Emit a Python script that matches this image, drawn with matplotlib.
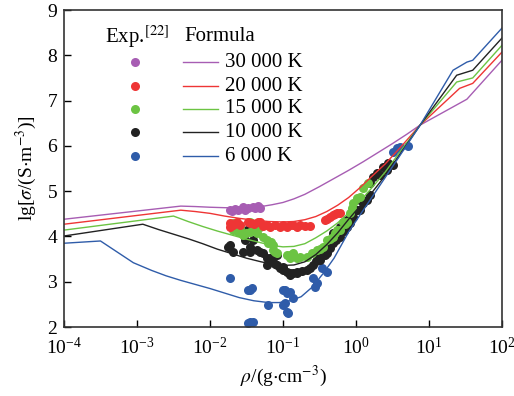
import matplotlib
matplotlib.use('Agg')
import matplotlib.pyplot as plt
import numpy as np

plt.rcParams['font.family'] = ['Liberation Serif', 'DejaVu Serif']
plt.rcParams['mathtext.fontset'] = 'stix'
plt.rcParams['font.size'] = 14

# names / colours of the series
names = ['30 000 K', '20 000 K', '15 000 K', '10 000 K', '6 000 K']
colors = ['#a75db3', '#ee3535', '#6cc443', '#222222', '#2f5ca9']

# Formula curves: log10(rho) and lg(sigma)
f30_lr = [-4.0, -2.4, -2.2, -2.0, -1.8, -1.6, -1.45, -1.3, -1.15, -1.0, -0.85, -0.7, -0.5,
          -0.3, -0.1, 0.1, 0.3, 0.5, 0.7, 0.88, 1.52, 2.0]
f30_lg = [4.38, 4.67, 4.66, 4.645, 4.635, 4.63, 4.64, 4.66, 4.70, 4.75, 4.83, 4.93, 5.10,
          5.28, 5.46, 5.65, 5.85, 6.05, 6.26, 6.46, 7.03, 7.89]
f20_lr = [-4.0, -2.4, -2.2, -2.0, -1.8, -1.6, -1.4, -1.2, -1.0, -0.85, -0.7, -0.55, -0.4,
          -0.25, -0.1, 0.05, 0.2, 0.4, 0.6, 0.88, 1.42, 1.6, 2.0]
f20_lg = [4.27, 4.58, 4.55, 4.51, 4.45, 4.40, 4.36, 4.33, 4.32, 4.33, 4.37, 4.44, 4.55,
          4.69, 4.86, 5.07, 5.30, 5.60, 5.95, 6.46, 7.27, 7.38, 8.07]
f15_lr = [-4.0, -2.5, -2.3, -2.1, -1.9, -1.7, -1.5, -1.3, -1.15, -1.0, -0.85, -0.7, -0.55,
          -0.4, -0.25, -0.1, 0.05, 0.2, 0.4, 0.6, 0.88, 1.38, 1.6, 2.0]
f15_lg = [4.14, 4.45, 4.33, 4.22, 4.12, 4.03, 3.94, 3.86, 3.80, 3.77, 3.78, 3.84, 3.97,
          4.12, 4.30, 4.52, 4.77, 5.04, 5.42, 5.86, 6.46, 7.41, 7.50, 8.22]
f10_lr = [-4.0, -2.92, -2.7, -2.5, -2.3, -2.1, -1.9, -1.7, -1.5, -1.3, -1.15, -1.0, -0.85,
          -0.7, -0.55, -0.4, -0.25, -0.1, 0.05, 0.2, 0.4, 0.6, 0.88, 1.38, 1.6, 2.0]
f10_lg = [4.01, 4.27, 4.15, 4.05, 3.95, 3.84, 3.72, 3.62, 3.52, 3.44, 3.39, 3.36, 3.37,
          3.44, 3.60, 3.82, 4.08, 4.38, 4.66, 4.93, 5.34, 5.81, 6.46, 7.56, 7.67, 8.38]
f6_lr = [-4.0, -3.5, -3.05, -2.8, -2.6, -2.4, -2.2, -2.0, -1.8, -1.6, -1.4, -1.2, -1.05,
         -0.9, -0.75, -0.6, -0.45, -0.3, -0.1, 0.1, 0.3, 0.6, 0.88, 1.33, 1.52, 1.6, 2.0]
f6_lg = [3.85, 3.90, 3.42, 3.25, 3.13, 3.03, 2.94, 2.85, 2.75, 2.65, 2.58, 2.54, 2.54,
         2.58, 2.67, 2.88, 3.18, 3.52, 4.10, 4.58, 5.06, 5.78, 6.46, 7.67, 7.85, 7.89, 8.60]

# Experimental points [22]: log10(rho) and lg(sigma)
e30_lr = [-1.73, -1.70, -1.66, -1.62, -1.55, -1.52, -1.48, -1.41, -1.38, -1.34, -1.32]
e30_lg = [4.58, 4.56, 4.60, 4.58, 4.65, 4.58, 4.63, 4.65, 4.62, 4.67, 4.63]
e20_lr = [-1.73, -1.73, -1.68, -1.63, -1.59, -1.48, -1.45, -1.40, -1.34, -1.32, -1.27, -1.22,
          -1.18, -1.11, -1.04, -1.00, -0.95, -0.90, -0.86, -0.81, -0.77, -0.70, -0.63,
          -0.42, -0.40, -0.36, -0.32, -0.29, -0.26, -0.22]
e20_lg = [4.30, 4.21, 4.26, 4.32, 4.25, 4.32, 4.30, 4.27, 4.32, 4.32, 4.22, 4.25,
          4.21, 4.25, 4.21, 4.25, 4.21, 4.25, 4.25, 4.21, 4.25, 4.23, 4.23,
          4.36, 4.38, 4.43, 4.47, 4.49, 4.52, 4.52]
e15_lr = [-1.68, -1.68, -1.62, -1.59, -1.55, -1.50, -1.45, -1.45, -1.40, -1.36, -1.32, -1.27,
          -1.22, -1.21, -1.17, -1.14, -1.14, -1.11, -1.08, -0.95, -0.90, -0.90, -0.86, -0.81,
          -0.77, -0.67, -0.60, -0.53, -0.49, -0.45, -0.40, -0.36, -0.32, -0.29, -0.26, -0.22,
          -0.18, -0.15, -0.12, -0.08, -0.06, -0.04, 0.01, 0.05, 0.10, 0.16]
e15_lg = [4.30, 4.14, 4.10, 4.19, 4.03, 4.08, 4.32, 4.10, 4.15, 4.08, 4.21, 3.99,
          3.92, 3.85, 3.88, 3.81, 3.70, 3.66, 3.63, 3.59, 3.59, 3.52, 3.63, 3.52,
          3.55, 3.55, 3.63, 3.70, 3.72, 3.77, 3.92, 3.95, 3.99, 4.07, 4.14, 4.14,
          4.32, 4.28, 4.32, 4.52, 4.62, 4.74, 4.85, 4.87, 5.07, 5.18]
e10_lr = [-1.75, -1.73, -1.68, -1.55, -1.52, -1.49, -1.45, -1.45, -1.41, -1.36, -1.32, -1.27,
          -1.22, -1.22, -1.18, -1.14, -1.11, -1.08, -1.08, -1.04, -1.00, -1.00, -0.95, -0.90,
          -0.90, -0.86, -0.81, -0.81, -0.74, -0.67, -0.63, -0.59, -0.55, -0.52, -0.49, -0.45,
          -0.42, -0.40, -0.36, -0.32, -0.32, -0.27, -0.22, -0.22, -0.17, -0.12, -0.12, -0.08,
          -0.04, 0.01, 0.05, 0.05, 0.10, 0.15, 0.19, 0.19, 0.23, 0.29, 0.33, 0.37, 0.42, 0.44, 0.51]
e10_lg = [3.77, 3.81, 3.66, 3.66, 3.92, 4.14, 3.77, 3.66, 3.92, 3.70, 3.66, 3.63,
          3.52, 3.37, 3.52, 3.43, 3.40, 3.59, 3.37, 3.30, 3.32, 3.26, 3.22, 3.19,
          3.15, 3.20, 3.21, 3.19, 3.23, 3.26, 3.30, 3.37, 3.45, 3.59, 3.48, 3.70,
          3.58, 3.63, 3.74, 3.85, 4.08, 3.92, 3.99, 4.21, 4.12, 4.21, 4.36, 4.30,
          4.43, 4.58, 4.58, 4.80, 4.74, 4.80, 4.91, 5.18, 5.31, 5.40, 5.36, 5.53, 5.47, 5.62, 5.58]
e6_lr = [-1.73, -1.48, -1.45, -1.42, -1.21, -1.00, -0.97, -0.95, -0.90, -0.86, -1.00, -0.97,
         -0.95, -0.93, -1.45, -1.41, -1.48, -0.59, -0.56, -0.53, -0.47, -0.40,
         0.51, 0.56, 0.60, 0.71]
e6_lg = [3.08, 2.82, 2.82, 2.86, 2.49, 2.82, 2.82, 2.75, 2.77, 2.64, 2.49, 2.53,
         2.33, 2.31, 2.11, 2.11, 2.09, 3.08, 2.88, 2.97, 3.30, 3.21,
         5.86, 5.95, 5.97, 6.00]

curves = [(f30_lr, f30_lg), (f20_lr, f20_lg), (f15_lr, f15_lg), (f10_lr, f10_lg), (f6_lr, f6_lg)]
exps = [(e30_lr, e30_lg), (e20_lr, e20_lg), (e15_lr, e15_lg), (e10_lr, e10_lg), (e6_lr, e6_lg)]

fig = plt.figure(figsize=(5.14, 3.96), dpi=100)
ax = fig.add_axes([0.1245, 0.1742, 0.852, 0.8005])

# points under lines, draw 6000 K first so 30000 K is on top like the original
for (lr, lg), c in zip(exps[::-1], colors[::-1]):
    ax.plot(10.0 ** np.array(lr), lg, 'o', color=c, ms=6.5, mec='none')
for (lr, lg), c in zip(curves, colors):
    ax.plot(10.0 ** np.array(lr), lg, '-', color=c, lw=1.0)

ax.set_xscale('log')
ax.set_xlim(1e-4, 1e2)
ax.set_ylim(2, 9)
ax.set_xticks([1e-4, 1e-3, 1e-2, 1e-1, 1e0, 1e1, 1e2])
ax.xaxis.set_minor_locator(matplotlib.ticker.NullLocator())
ax.set_yticks(range(2, 10))
ax.tick_params(direction='in', length=5, width=1, top=False, right=False, labelsize=14)
ax.tick_params(axis='x', pad=7)
ax.tick_params(axis='y', pad=5)
for sp in ax.spines.values():
    sp.set_linewidth(1.2)
    sp.set_color('#333333')

ax.set_xlabel(r'$\rho$/(g$\cdot$cm$^{-3}$)', fontsize=14, labelpad=4)
ax.set_ylabel(r'lg[$\sigma$/(S$\cdot$m$^{-3}$)]', fontsize=14, labelpad=6)

# hand-made two-column legend
ax.text(0.094, 0.915, r'Exp.$^{[22]}$', transform=ax.transAxes, fontsize=15, va='center')
ax.text(0.276, 0.915, 'Formula', transform=ax.transAxes, fontsize=15, va='center')
rows_y = [0.836, 0.760, 0.688, 0.615, 0.539]
for yy, c, nm in zip(rows_y, colors, names):
    ax.plot([0.162], [yy], 'o', color=c, ms=6.5, mec='none', transform=ax.transAxes)
    ax.plot([0.272, 0.352], [yy, yy], '-', color=c, lw=1.0, transform=ax.transAxes)
    ax.text(0.368, yy, nm, transform=ax.transAxes, fontsize=15, va='center')

fig.savefig('out.png', dpi=100)
